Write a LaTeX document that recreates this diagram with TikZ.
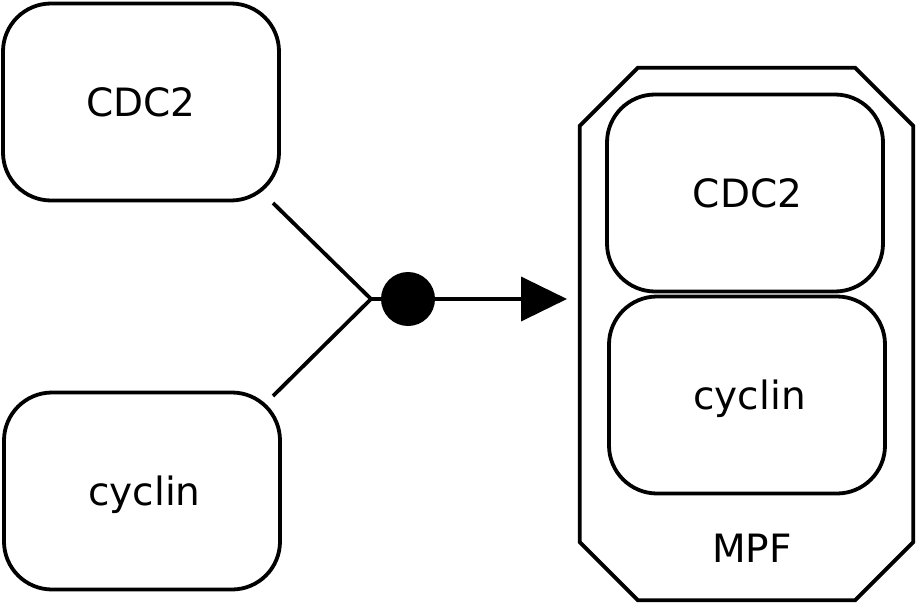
\documentclass[tikz,border=0pt]{standalone}
\usepackage{fontspec}
\setmainfont{DejaVu Sans}
\usetikzlibrary{arrows.meta}
\begin{document}
\begin{tikzpicture}[x=1pt,y=-1pt,
  lw/.style={line width=3.8pt},
  entity/.style={lw,draw,rounded corners=48pt,minimum width=276pt,minimum height=197pt,inner sep=0pt,font=\fontsize{39}{46}\selectfont},
  lbl/.style={font=\fontsize{39}{46}\selectfont,inner sep=0pt}
]
\useasboundingbox (0,0) rectangle (917,604);
\node[minimum width=333pt,minimum height=532pt,inner sep=0pt] (mpf) at (746.5,334) {};
\draw[lw] (mpf.north west) ++(0,58) -- ++(58,-58) -- ([xshift=-58pt]mpf.north east) -- ++(58,58)
  -- ([yshift=58pt]mpf.south east) -- ++(-58,58) -- ([xshift=58pt]mpf.south west) -- ++(-58,-58) -- cycle;
\node[entity] (cdc2) at (141,102) {CDC2};
\node[entity] (cyclin) at (142,491) {\hspace*{5pt}\raisebox{-4pt}[\height][\depth]{cyclin}};
\node[entity] (icdc2) at (745,193) {\hspace*{5pt}CDC2};
\node[entity] (icyclin) at (747,395) {\hspace*{5pt}\raisebox{-4pt}[\height][\depth]{cyclin}};
\node[lbl] (mpflabel) at (752,548) {MPF};
\coordinate (a1) at (273,203);
\coordinate (a2) at (273,396);
\coordinate (j) at (371,299);
\coordinate (tip) at (567,299);
\node[circle,fill=black,minimum size=54pt,inner sep=0pt] (dot) at (408,299) {};
\draw[lw] (a1) -- (j) -- (a2);
\draw[lw] (j) -- (dot);
\draw[lw,-{Triangle[length=46pt,width=44pt]}] (dot) -- (tip);
\end{tikzpicture}
\end{document}
